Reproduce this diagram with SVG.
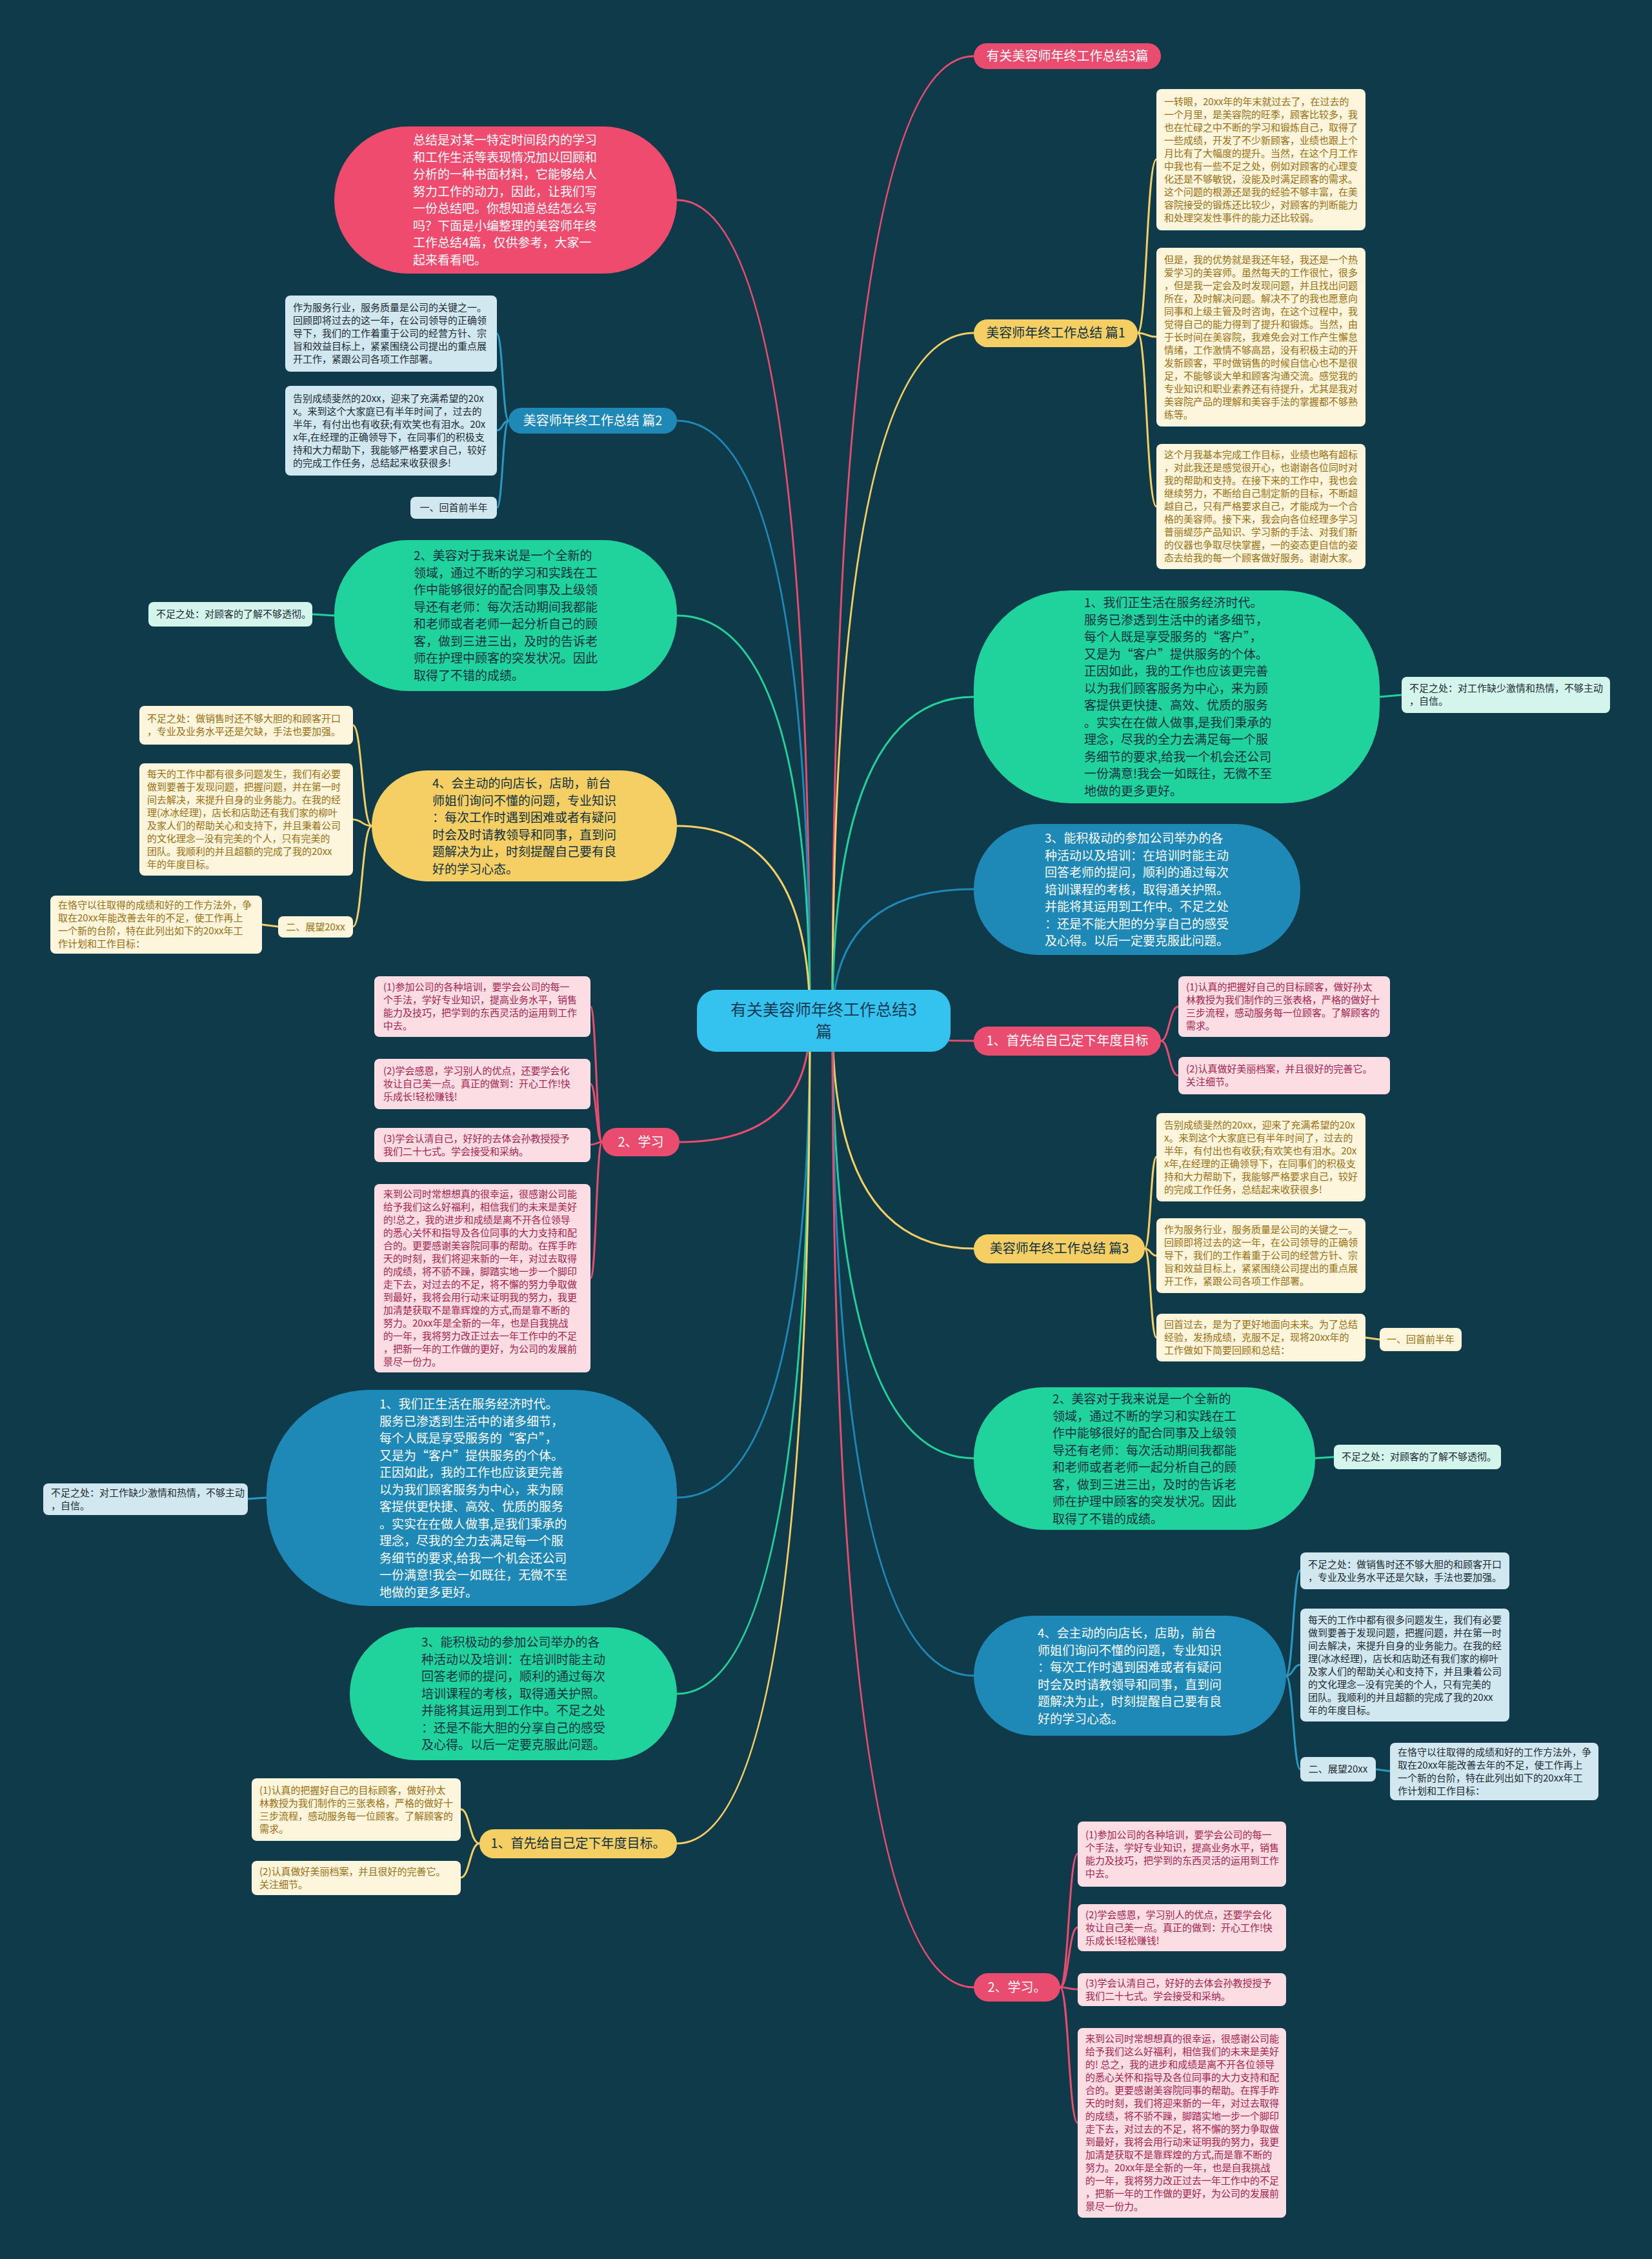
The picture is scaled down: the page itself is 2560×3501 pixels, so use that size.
<svg xmlns="http://www.w3.org/2000/svg" width="2560" height="3501" viewBox="0 0 2560 3501">
<style>
text{font-family:"Noto Sans CJK SC","Noto Sans",sans-serif;}
.cb{fill:#fdf5dc;}
.pb{fill:#fbdde3;}
.lb{fill:#d2e8f0;}
.mb{fill:#d3f5ec;}
.ct{fill:#9b7012;font-size:15px;}
.pt{fill:#a8234f;font-size:15px;}
.lt{fill:#1c2b33;font-size:15px;}
.bt{font-size:19px;}
.tg{font-size:20px;text-anchor:middle;}
.w{fill:#ffffff;}
.d{fill:#0e2f40;}
.c{fill:none;stroke-width:3;stroke-linecap:round;}
.r{stroke:#ea4c6f;}
.y{stroke:#f5cf63;}
.g{stroke:#20d39c;}
.b{stroke:#1e88b6;}
.lbs{stroke:#2a98c4;}
</style>
<rect x="0" y="0" width="2560" height="3501" fill="#0e3a4a"/>

<g id="connectors">
  <!-- root to right -->
  <path class="c r" stroke-width="4" d="M1290 1582 Q1290 87 1509 87"/>
  <path class="c y" stroke-width="4" d="M1290 1582 Q1290 516 1509 516"/>
  <path class="c g" stroke-width="4" d="M1290 1582 Q1290 1080 1509 1080"/>
  <path class="c b" stroke-width="4" d="M1290 1582 Q1290 1378 1509 1378"/>
  <path class="c r" stroke-width="4" d="M1290 1582 Q1290 1613 1509 1613"/>
  <path class="c y" stroke-width="4" d="M1290 1582 Q1290 1935 1509 1935"/>
  <path class="c g" stroke-width="4" d="M1290 1582 Q1290 2260 1509 2260"/>
  <path class="c b" stroke-width="4" d="M1290 1582 Q1290 2597 1509 2597"/>
  <path class="c r" stroke-width="4" d="M1290 1582 Q1290 3080 1509 3080"/>
  <!-- root to left -->
  <path class="c r" stroke-width="4" d="M1255 1582 Q1255 310 1049 310"/>
  <path class="c b" stroke-width="4" d="M1255 1582 Q1255 652 1049 652"/>
  <path class="c g" stroke-width="4" d="M1255 1582 Q1255 954 1049 954"/>
  <path class="c y" stroke-width="4" d="M1255 1582 Q1255 1280 1049 1280"/>
  <path class="c r" stroke-width="4" d="M1255 1582 Q1255 1770 1053 1770"/>
  <path class="c b" stroke-width="4" d="M1255 1582 Q1255 2321 1049 2321"/>
  <path class="c g" stroke-width="4" d="M1255 1582 Q1255 2625 1049 2625"/>
  <path class="c y" stroke-width="4" d="M1255 1582 Q1255 2857 1049 2857"/>
  <!-- right 篇1 -->
  <path class="c y" d="M1763 516 C1777 516 1777 247 1792 247"/>
  <path class="c y" d="M1763 516 C1777 516 1777 522 1792 522"/>
  <path class="c y" d="M1763 516 C1777 516 1777 785 1792 785"/>
  <!-- left 篇2 -->
  <path class="c lbs" d="M788 652 C779 652 779 517 770 517"/>
  <path class="c lbs" d="M788 652 C779 652 779 667 770 667"/>
  <path class="c lbs" d="M788 652 C779 652 779 787 770 787"/>
  <!-- green right 1 -->
  <path class="c g" d="M2138 1080 L2172 1077"/>
  <!-- green left 2 -->
  <path class="c g" d="M518 954 L484 952"/>
  <!-- yellow left 4 -->
  <path class="c y" d="M576 1280 C561 1280 561 1124 547 1124"/>
  <path class="c y" d="M576 1280 C561 1280 561 1270 547 1270"/>
  <path class="c y" d="M576 1280 C561 1280 561 1436 547 1436"/>
  <path class="c y" d="M431 1436 L406 1433"/>
  <!-- pink left 学习 -->
  <path class="c r" d="M933 1770 C924 1770 924 1560 915 1560"/>
  <path class="c r" d="M933 1770 C924 1770 924 1680 915 1680"/>
  <path class="c r" d="M933 1770 C924 1770 924 1774 915 1774"/>
  <path class="c r" d="M933 1770 C924 1770 924 1981 915 1981"/>
  <!-- pink right 首先 -->
  <path class="c r" d="M1799 1613 C1812 1613 1812 1560 1826 1560"/>
  <path class="c r" d="M1799 1613 C1812 1613 1812 1667 1826 1667"/>
  <!-- yellow right 篇3 -->
  <path class="c y" d="M1774 1935 C1783 1935 1783 1793 1792 1793"/>
  <path class="c y" d="M1774 1935 C1783 1935 1783 1946 1792 1946"/>
  <path class="c y" d="M1774 1935 C1783 1935 1783 2073 1792 2073"/>
  <path class="c y" d="M2116 2073 L2138 2076"/>
  <!-- green right 2 -->
  <path class="c g" d="M2038 2260 L2067 2258"/>
  <!-- blue right 4 -->
  <path class="c lbs" d="M1993 2597 C2004 2597 2004 2434 2015 2434"/>
  <path class="c lbs" d="M1993 2597 C2004 2597 2004 2580 2015 2580"/>
  <path class="c lbs" d="M1993 2597 C2004 2597 2004 2742 2015 2742"/>
  <path class="c lbs" d="M2132 2742 L2154 2745"/>
  <!-- pink right 学习 -->
  <path class="c r" d="M1643 3080 C1656 3080 1656 2873 1670 2873"/>
  <path class="c r" d="M1643 3080 C1656 3080 1656 2987 1670 2987"/>
  <path class="c r" d="M1643 3080 C1656 3080 1656 3083 1670 3083"/>
  <path class="c r" d="M1643 3080 C1656 3080 1656 3290 1670 3290"/>
  <!-- blue left 1 -->
  <path class="c lbs" d="M413 2321 L384 2323"/>
  <!-- yellow left 首先 -->
  <path class="c y" d="M743 2857 C728 2857 728 2804 714 2804"/>
  <path class="c y" d="M743 2857 C728 2857 728 2910 714 2910"/>
</g>

<g id="root">
  <rect x="1080" y="1534" width="393" height="96" rx="30" fill="#34c3ef"/>
  <text x="1276.5" y="1574" font-size="25" text-anchor="middle" fill="#173a55"><tspan x="1276.5">有关美容师年终工作总结3</tspan><tspan x="1276.5" dy="34">篇</tspan></text>
</g>

<!-- ============ RIGHT SIDE ============ -->
<g id="tag-top">
  <rect x="1509" y="67" width="290" height="40" rx="20" fill="#ea4c6f"/>
  <text class="tg w" x="1654" y="94">有关美容师年终工作总结3篇</text>
</g>

<g id="r-p1">
  <rect x="1509" y="495" width="254" height="43" rx="21" fill="#f5cf63"/>
  <text class="tg d" x="1636" y="523">美容师年终工作总结 篇1</text>
</g>
<g id="r-p1-b1">
  <rect class="cb" x="1792" y="138" width="324" height="219" rx="8"/>
  <text class="ct" x="1804" y="162.5"><tspan x="1804">一转眼，20xx年的年末就过去了，在过去的</tspan><tspan x="1804" dy="20">一个月里，是美容院的旺季，顾客比较多，我</tspan><tspan x="1804" dy="20">也在忙碌之中不断的学习和锻炼自己，取得了</tspan><tspan x="1804" dy="20">一些成绩，开发了不少新顾客，业绩也跟上个</tspan><tspan x="1804" dy="20">月比有了大幅度的提升。当然，在这个月工作</tspan><tspan x="1804" dy="20">中我也有一些不足之处，例如对顾客的心理变</tspan><tspan x="1804" dy="20">化还是不够敏锐，没能及时满足顾客的需求。</tspan><tspan x="1804" dy="20">这个问题的根源还是我的经验不够丰富，在美</tspan><tspan x="1804" dy="20">容院接受的锻炼还比较少，对顾客的判断能力</tspan><tspan x="1804" dy="20">和处理突发性事件的能力还比较弱。</tspan></text>
</g>
<g id="r-p1-b2">
  <rect class="cb" x="1792" y="384" width="324" height="277" rx="8"/>
  <text class="ct" x="1804" y="407.5"><tspan x="1804">但是，我的优势就是我还年轻，我还是一个热</tspan><tspan x="1804" dy="20">爱学习的美容师。虽然每天的工作很忙，很多</tspan><tspan x="1804" dy="20">，但是我一定会及时发现问题，并且找出问题</tspan><tspan x="1804" dy="20">所在，及时解决问题。解决不了的我也愿意向</tspan><tspan x="1804" dy="20">同事和上级主管及时咨询，在这个过程中，我</tspan><tspan x="1804" dy="20">觉得自己的能力得到了提升和锻炼。当然，由</tspan><tspan x="1804" dy="20">于长时间在美容院，我难免会对工作产生懈怠</tspan><tspan x="1804" dy="20">情绪，工作激情不够高昂，没有积极主动的开</tspan><tspan x="1804" dy="20">发新顾客，平时做销售的时候自信心也不是很</tspan><tspan x="1804" dy="20">足，不能够谈大单和顾客沟通交流。感觉我的</tspan><tspan x="1804" dy="20">专业知识和职业素养还有待提升，尤其是我对</tspan><tspan x="1804" dy="20">美容院产品的理解和美容手法的掌握都不够熟</tspan><tspan x="1804" dy="20">练等。</tspan></text>
</g>
<g id="r-p1-b3">
  <rect class="cb" x="1792" y="688" width="324" height="194" rx="8"/>
  <text class="ct" x="1804" y="710"><tspan x="1804">这个月我基本完成工作目标，业绩也略有超标</tspan><tspan x="1804" dy="20">，对此我还是感觉很开心，也谢谢各位同时对</tspan><tspan x="1804" dy="20">我的帮助和支持。在接下来的工作中，我也会</tspan><tspan x="1804" dy="20">继续努力，不断给自己制定新的目标，不断超</tspan><tspan x="1804" dy="20">越自己，只有严格要求自己，才能成为一个合</tspan><tspan x="1804" dy="20">格的美容师。接下来，我会向各位经理多学习</tspan><tspan x="1804" dy="20">普丽缇莎产品知识、学习新的手法、对我们新</tspan><tspan x="1804" dy="20">的仪器也争取尽快掌握，一的姿态更自信的姿</tspan><tspan x="1804" dy="20">态去给我的每一个顾客做好服务。谢谢大家。</tspan></text>
</g>

<g id="r-green1">
  <rect x="1509" y="915" width="629" height="330" rx="150" fill="#20d39c"/>
  <text class="bt d" x="1680" y="941"><tspan x="1680">1、我们正生活在服务经济时代。</tspan><tspan x="1680" dy="26.5">服务已渗透到生活中的诸多细节，</tspan><tspan x="1680" dy="26.5">每个人既是享受服务的“客户”，</tspan><tspan x="1680" dy="26.5">又是为“客户”提供服务的个体。</tspan><tspan x="1680" dy="26.5">正因如此，我的工作也应该更完善</tspan><tspan x="1680" dy="26.5">以为我们顾客服务为中心，来为顾</tspan><tspan x="1680" dy="26.5">客提供更快捷、高效、优质的服务</tspan><tspan x="1680" dy="26.5">。实实在在做人做事,是我们秉承的</tspan><tspan x="1680" dy="26.5">理念，尽我的全力去满足每一个服</tspan><tspan x="1680" dy="26.5">务细节的要求,给我一个机会还公司</tspan><tspan x="1680" dy="26.5">一份满意!我会一如既往，无微不至</tspan><tspan x="1680" dy="26.5">地做的更多更好。</tspan></text>
</g>
<g id="r-green1-m">
  <rect class="mb" x="2172" y="1049" width="323" height="56" rx="8"/>
  <text class="lt" x="2184" y="1072"><tspan x="2184">不足之处：对工作缺少激情和热情，不够主动</tspan><tspan x="2184" dy="20">，自信。</tspan></text>
</g>

<g id="r-blue3">
  <rect x="1509" y="1277" width="506" height="203" rx="100" fill="#1e88b6"/>
  <text class="bt w" x="1619" y="1306"><tspan x="1619">3、能积极动的参加公司举办的各</tspan><tspan x="1619" dy="26.5">种活动以及培训：在培训时能主动</tspan><tspan x="1619" dy="26.5">回答老师的提问，顺利的通过每次</tspan><tspan x="1619" dy="26.5">培训课程的考核，取得通关护照。</tspan><tspan x="1619" dy="26.5">并能将其运用到工作中。不足之处</tspan><tspan x="1619" dy="26.5">：还是不能大胆的分享自己的感受</tspan><tspan x="1619" dy="26.5">及心得。以后一定要克服此问题。</tspan></text>
</g>

<g id="r-goal">
  <rect x="1509" y="1591" width="290" height="45" rx="22" fill="#ea4c6f"/>
  <text class="tg w" x="1654" y="1620">1、首先给自己定下年度目标</text>
</g>
<g id="r-goal-b1">
  <rect class="pb" x="1826" y="1513" width="328" height="94" rx="8"/>
  <text class="pt" x="1838" y="1535"><tspan x="1838">(1)认真的把握好自己的目标顾客，做好孙太</tspan><tspan x="1838" dy="20">林教授为我们制作的三张表格，严格的做好十</tspan><tspan x="1838" dy="20">三步流程，感动服务每一位顾客。了解顾客的</tspan><tspan x="1838" dy="20">需求。</tspan></text>
</g>
<g id="r-goal-b2">
  <rect class="pb" x="1826" y="1638" width="328" height="58" rx="8"/>
  <text class="pt" x="1838" y="1662"><tspan x="1838">(2)认真做好美丽档案，并且很好的完善它。</tspan><tspan x="1838" dy="20">关注细节。</tspan></text>
</g>

<g id="r-p3">
  <rect x="1509" y="1913" width="265" height="45" rx="22" fill="#f5cf63"/>
  <text class="tg d" x="1641.5" y="1942">美容师年终工作总结 篇3</text>
</g>
<g id="r-p3-b1">
  <rect class="cb" x="1792" y="1725" width="324" height="137" rx="8"/>
  <text class="ct" x="1804" y="1748.5"><tspan x="1804">告别成绩斐然的20xx，迎来了充满希望的20x</tspan><tspan x="1804" dy="20">x。来到这个大家庭已有半年时间了，过去的</tspan><tspan x="1804" dy="20">半年，有付出也有收获;有欢笑也有泪水。20x</tspan><tspan x="1804" dy="20">x年,在经理的正确领导下，在同事们的积极支</tspan><tspan x="1804" dy="20">持和大力帮助下，我能够严格要求自己，较好</tspan><tspan x="1804" dy="20">的完成工作任务，总结起来收获很多!</tspan></text>
</g>
<g id="r-p3-b2">
  <rect class="cb" x="1792" y="1888" width="324" height="116" rx="8"/>
  <text class="ct" x="1804" y="1911"><tspan x="1804">作为服务行业，服务质量是公司的关键之一。</tspan><tspan x="1804" dy="20">回顾即将过去的这一年，在公司领导的正确领</tspan><tspan x="1804" dy="20">导下，我们的工作着重于公司的经营方针、宗</tspan><tspan x="1804" dy="20">旨和效益目标上，紧紧围绕公司提出的重点展</tspan><tspan x="1804" dy="20">开工作，紧跟公司各项工作部署。</tspan></text>
</g>
<g id="r-p3-b3">
  <rect class="cb" x="1792" y="2036" width="324" height="74" rx="8"/>
  <text class="ct" x="1804" y="2058"><tspan x="1804">回首过去，是为了更好地面向未来。为了总结</tspan><tspan x="1804" dy="20">经验，发扬成绩，克服不足，现将20xx年的</tspan><tspan x="1804" dy="20">工作做如下简要回顾和总结：</tspan></text>
</g>
<g id="r-p3-b4">
  <rect class="cb" x="2138" y="2058" width="127" height="36" rx="8"/>
  <text class="ct" x="2201.5" y="2081" text-anchor="middle">一、回首前半年</text>
</g>

<g id="r-green2">
  <rect x="1509" y="2150" width="529" height="221" rx="108" fill="#20d39c"/>
  <text class="bt d" x="1631" y="2175"><tspan x="1631">2、美容对于我来说是一个全新的</tspan><tspan x="1631" dy="26.5">领域，通过不断的学习和实践在工</tspan><tspan x="1631" dy="26.5">作中能够很好的配合同事及上级领</tspan><tspan x="1631" dy="26.5">导还有老师：每次活动期间我都能</tspan><tspan x="1631" dy="26.5">和老师或者老师一起分析自己的顾</tspan><tspan x="1631" dy="26.5">客，做到三进三出，及时的告诉老</tspan><tspan x="1631" dy="26.5">师在护理中顾客的突发状况。因此</tspan><tspan x="1631" dy="26.5">取得了不错的成绩。</tspan></text>
</g>
<g id="r-green2-m">
  <rect class="mb" x="2067" y="2239" width="259" height="38" rx="8"/>
  <text class="lt" x="2079" y="2263">不足之处：对顾客的了解不够透彻。</text>
</g>

<g id="r-blue4">
  <rect x="1509" y="2504" width="484" height="186" rx="93" fill="#1e88b6"/>
  <text class="bt w" x="1608" y="2538"><tspan x="1608">4、会主动的向店长，店助，前台</tspan><tspan x="1608" dy="26.5">师姐们询问不懂的问题，专业知识</tspan><tspan x="1608" dy="26.5">：每次工作时遇到困难或者有疑问</tspan><tspan x="1608" dy="26.5">时会及时请教领导和同事，直到问</tspan><tspan x="1608" dy="26.5">题解决为止，时刻提醒自己要有良</tspan><tspan x="1608" dy="26.5">好的学习心态。</tspan></text>
</g>
<g id="r-blue4-b1">
  <rect class="lb" x="2015" y="2406" width="324" height="57" rx="8"/>
  <text class="lt" x="2027" y="2429.5"><tspan x="2027">不足之处：做销售时还不够大胆的和顾客开口</tspan><tspan x="2027" dy="20">，专业及业务水平还是欠缺，手法也要加强。</tspan></text>
</g>
<g id="r-blue4-b2">
  <rect class="lb" x="2015" y="2493" width="324" height="175" rx="8"/>
  <text class="lt" x="2027" y="2515.5"><tspan x="2027">每天的工作中都有很多问题发生，我们有必要</tspan><tspan x="2027" dy="20">做到要善于发现问题，把握问题，并在第一时</tspan><tspan x="2027" dy="20">间去解决，来提升自身的业务能力。在我的经</tspan><tspan x="2027" dy="20">理(冰冰经理)，店长和店助还有我们家的柳叶</tspan><tspan x="2027" dy="20">及家人们的帮助关心和支持下，并且秉着公司</tspan><tspan x="2027" dy="20">的文化理念—没有完美的个人，只有完美的</tspan><tspan x="2027" dy="20">团队。我顺利的并且超额的完成了我的20xx</tspan><tspan x="2027" dy="20">年的年度目标。</tspan></text>
</g>
<g id="r-blue4-b3">
  <rect class="lb" x="2015" y="2723" width="117" height="38" rx="8"/>
  <text class="lt" x="2073.5" y="2747" text-anchor="middle">二、展望20xx</text>
</g>
<g id="r-blue4-b4">
  <rect class="lb" x="2154" y="2701" width="323" height="89" rx="8"/>
  <text class="lt" x="2166" y="2720.5"><tspan x="2166">在恪守以往取得的成绩和好的工作方法外，争</tspan><tspan x="2166" dy="20">取在20xx年能改善去年的不足，使工作再上</tspan><tspan x="2166" dy="20">一个新的台阶，特在此列出如下的20xx年工</tspan><tspan x="2166" dy="20">作计划和工作目标：</tspan></text>
</g>

<g id="r-study">
  <rect x="1509" y="3058" width="134" height="44" rx="22" fill="#ea4c6f"/>
  <text class="tg w" x="1576" y="3087">2、学习。</text>
</g>
<g id="r-study-b1">
  <rect class="pb" x="1670" y="2823" width="323" height="101" rx="8"/>
  <text class="pt" x="1682" y="2848.5"><tspan x="1682">(1)参加公司的各种培训，要学会公司的每一</tspan><tspan x="1682" dy="20">个手法，学好专业知识，提高业务水平，销售</tspan><tspan x="1682" dy="20">能力及技巧，把学到的东西灵活的运用到工作</tspan><tspan x="1682" dy="20">中去。</tspan></text>
</g>
<g id="r-study-b2">
  <rect class="pb" x="1670" y="2951" width="323" height="73" rx="8"/>
  <text class="pt" x="1682" y="2972.5"><tspan x="1682">(2)学会感恩，学习别人的优点，还要学会化</tspan><tspan x="1682" dy="20">妆让自己美一点。真正的做到：开心工作!快</tspan><tspan x="1682" dy="20">乐成长!轻松赚钱!</tspan></text>
</g>
<g id="r-study-b3">
  <rect class="pb" x="1670" y="3058" width="323" height="51" rx="8"/>
  <text class="pt" x="1682" y="3078.5"><tspan x="1682">(3)学会认清自己，好好的去体会孙教授授予</tspan><tspan x="1682" dy="20">我们二十七式。学会接受和采纳。</tspan></text>
</g>
<g id="r-study-b4">
  <rect class="pb" x="1670" y="3143" width="323" height="294" rx="8"/>
  <text class="pt" x="1682" y="3165"><tspan x="1682">来到公司时常想想真的很幸运，很感谢公司能</tspan><tspan x="1682" dy="20">给予我们这么好福利，相信我们的未来是美好</tspan><tspan x="1682" dy="20">的! 总之，我的进步和成绩是离不开各位领导</tspan><tspan x="1682" dy="20">的悉心关怀和指导及各位同事的大力支持和配</tspan><tspan x="1682" dy="20">合的。更要感谢美容院同事的帮助。在挥手昨</tspan><tspan x="1682" dy="20">天的时刻，我们将迎来新的一年，对过去取得</tspan><tspan x="1682" dy="20">的成绩，将不骄不躁，脚踏实地一步一个脚印</tspan><tspan x="1682" dy="20">走下去，对过去的不足，将不懈的努力争取做</tspan><tspan x="1682" dy="20">到最好，我将会用行动来证明我的努力，我更</tspan><tspan x="1682" dy="20">加清楚获取不是靠辉煌的方式,而是靠不断的</tspan><tspan x="1682" dy="20">努力。20xx年是全新的一年，也是自我挑战</tspan><tspan x="1682" dy="20">的一年，我将努力改正过去一年工作中的不足</tspan><tspan x="1682" dy="20">，把新一年的工作做的更好，为公司的发展前</tspan><tspan x="1682" dy="20">景尽一份力。</tspan></text>
</g>

<!-- ============ LEFT SIDE ============ -->
<g id="l-intro">
  <rect x="518" y="196" width="531" height="228" rx="114" fill="#ee4b6e"/>
  <text class="bt w" x="640" y="224"><tspan x="640">总结是对某一特定时间段内的学习</tspan><tspan x="640" dy="26.5">和工作生活等表现情况加以回顾和</tspan><tspan x="640" dy="26.5">分析的一种书面材料，它能够给人</tspan><tspan x="640" dy="26.5">努力工作的动力，因此，让我们写</tspan><tspan x="640" dy="26.5">一份总结吧。你想知道总结怎么写</tspan><tspan x="640" dy="26.5">吗？下面是小编整理的美容师年终</tspan><tspan x="640" dy="26.5">工作总结4篇，仅供参考，大家一</tspan><tspan x="640" dy="26.5">起来看看吧。</tspan></text>
</g>

<g id="l-p2">
  <rect x="788" y="632" width="261" height="40" rx="20" fill="#1e88b6"/>
  <text class="tg w" x="918.5" y="659">美容师年终工作总结 篇2</text>
</g>
<g id="l-p2-b1">
  <rect class="lb" x="442" y="458" width="328" height="118" rx="8"/>
  <text class="lt" x="454" y="482"><tspan x="454">作为服务行业，服务质量是公司的关键之一。</tspan><tspan x="454" dy="20">回顾即将过去的这一年，在公司领导的正确领</tspan><tspan x="454" dy="20">导下，我们的工作着重于公司的经营方针、宗</tspan><tspan x="454" dy="20">旨和效益目标上，紧紧围绕公司提出的重点展</tspan><tspan x="454" dy="20">开工作，紧跟公司各项工作部署。</tspan></text>
</g>
<g id="l-p2-b2">
  <rect class="lb" x="442" y="598" width="328" height="139" rx="8"/>
  <text class="lt" x="454" y="622.5"><tspan x="454">告别成绩斐然的20xx，迎来了充满希望的20x</tspan><tspan x="454" dy="20">x。来到这个大家庭已有半年时间了，过去的</tspan><tspan x="454" dy="20">半年，有付出也有收获;有欢笑也有泪水。20x</tspan><tspan x="454" dy="20">x年,在经理的正确领导下，在同事们的积极支</tspan><tspan x="454" dy="20">持和大力帮助下，我能够严格要求自己，较好</tspan><tspan x="454" dy="20">的完成工作任务，总结起来收获很多!</tspan></text>
</g>
<g id="l-p2-b3">
  <rect class="lb" x="636" y="770" width="134" height="34" rx="8"/>
  <text class="lt" x="703" y="792" text-anchor="middle">一、回首前半年</text>
</g>

<g id="l-green2">
  <rect x="518" y="837" width="531" height="234" rx="114" fill="#20d39c"/>
  <text class="bt d" x="641" y="868"><tspan x="641">2、美容对于我来说是一个全新的</tspan><tspan x="641" dy="26.5">领域，通过不断的学习和实践在工</tspan><tspan x="641" dy="26.5">作中能够很好的配合同事及上级领</tspan><tspan x="641" dy="26.5">导还有老师：每次活动期间我都能</tspan><tspan x="641" dy="26.5">和老师或者老师一起分析自己的顾</tspan><tspan x="641" dy="26.5">客，做到三进三出，及时的告诉老</tspan><tspan x="641" dy="26.5">师在护理中顾客的突发状况。因此</tspan><tspan x="641" dy="26.5">取得了不错的成绩。</tspan></text>
</g>
<g id="l-green2-m">
  <rect class="mb" x="230" y="933" width="254" height="38" rx="8"/>
  <text class="lt" x="242" y="957">不足之处：对顾客的了解不够透彻。</text>
</g>

<g id="l-yellow4">
  <rect x="576" y="1194" width="473" height="172" rx="86" fill="#f5cf63"/>
  <text class="bt d" x="670" y="1221"><tspan x="670">4、会主动的向店长，店助，前台</tspan><tspan x="670" dy="26.5">师姐们询问不懂的问题，专业知识</tspan><tspan x="670" dy="26.5">：每次工作时遇到困难或者有疑问</tspan><tspan x="670" dy="26.5">时会及时请教领导和同事，直到问</tspan><tspan x="670" dy="26.5">题解决为止，时刻提醒自己要有良</tspan><tspan x="670" dy="26.5">好的学习心态。</tspan></text>
</g>
<g id="l-yellow4-b1">
  <rect class="cb" x="216" y="1094" width="331" height="60" rx="8"/>
  <text class="ct" x="228" y="1119"><tspan x="228">不足之处：做销售时还不够大胆的和顾客开口</tspan><tspan x="228" dy="20">，专业及业务水平还是欠缺，手法也要加强。</tspan></text>
</g>
<g id="l-yellow4-b2">
  <rect class="cb" x="216" y="1183" width="331" height="174" rx="8"/>
  <text class="ct" x="228" y="1205"><tspan x="228">每天的工作中都有很多问题发生，我们有必要</tspan><tspan x="228" dy="20">做到要善于发现问题，把握问题，并在第一时</tspan><tspan x="228" dy="20">间去解决，来提升自身的业务能力。在我的经</tspan><tspan x="228" dy="20">理(冰冰经理)，店长和店助还有我们家的柳叶</tspan><tspan x="228" dy="20">及家人们的帮助关心和支持下，并且秉着公司</tspan><tspan x="228" dy="20">的文化理念—没有完美的个人，只有完美的</tspan><tspan x="228" dy="20">团队。我顺利的并且超额的完成了我的20xx</tspan><tspan x="228" dy="20">年的年度目标。</tspan></text>
</g>
<g id="l-yellow4-b3">
  <rect class="cb" x="431" y="1420" width="116" height="33" rx="8"/>
  <text class="ct" x="489" y="1442" text-anchor="middle">二、展望20xx</text>
</g>
<g id="l-yellow4-b4">
  <rect class="cb" x="78" y="1388" width="328" height="90" rx="8"/>
  <text class="ct" x="90" y="1408"><tspan x="90">在恪守以往取得的成绩和好的工作方法外，争</tspan><tspan x="90" dy="20">取在20xx年能改善去年的不足，使工作再上</tspan><tspan x="90" dy="20">一个新的台阶，特在此列出如下的20xx年工</tspan><tspan x="90" dy="20">作计划和工作目标：</tspan></text>
</g>

<g id="l-study">
  <rect x="933" y="1748" width="120" height="44" rx="22" fill="#ea4c6f"/>
  <text class="tg w" x="993" y="1777">2、学习</text>
</g>
<g id="l-study-b1">
  <rect class="pb" x="580" y="1513" width="335" height="94" rx="8"/>
  <text class="pt" x="594" y="1535"><tspan x="594">(1)参加公司的各种培训，要学会公司的每一</tspan><tspan x="594" dy="20">个手法，学好专业知识，提高业务水平，销售</tspan><tspan x="594" dy="20">能力及技巧，把学到的东西灵活的运用到工作</tspan><tspan x="594" dy="20">中去。</tspan></text>
</g>
<g id="l-study-b2">
  <rect class="pb" x="580" y="1641" width="335" height="78" rx="8"/>
  <text class="pt" x="594" y="1665"><tspan x="594">(2)学会感恩，学习别人的优点，还要学会化</tspan><tspan x="594" dy="20">妆让自己美一点。真正的做到：开心工作!快</tspan><tspan x="594" dy="20">乐成长!轻松赚钱!</tspan></text>
</g>
<g id="l-study-b3">
  <rect class="pb" x="580" y="1748" width="335" height="53" rx="8"/>
  <text class="pt" x="594" y="1769.5"><tspan x="594">(3)学会认清自己，好好的去体会孙教授授予</tspan><tspan x="594" dy="20">我们二十七式。学会接受和采纳。</tspan></text>
</g>
<g id="l-study-b4">
  <rect class="pb" x="580" y="1835" width="335" height="292" rx="8"/>
  <text class="pt" x="594" y="1856"><tspan x="594">来到公司时常想想真的很幸运，很感谢公司能</tspan><tspan x="594" dy="20">给予我们这么好福利，相信我们的未来是美好</tspan><tspan x="594" dy="20">的!总之，我的进步和成绩是离不开各位领导</tspan><tspan x="594" dy="20">的悉心关怀和指导及各位同事的大力支持和配</tspan><tspan x="594" dy="20">合的。更要感谢美容院同事的帮助。在挥手昨</tspan><tspan x="594" dy="20">天的时刻，我们将迎来新的一年，对过去取得</tspan><tspan x="594" dy="20">的成绩，将不骄不躁，脚踏实地一步一个脚印</tspan><tspan x="594" dy="20">走下去，对过去的不足，将不懈的努力争取做</tspan><tspan x="594" dy="20">到最好，我将会用行动来证明我的努力，我更</tspan><tspan x="594" dy="20">加清楚获取不是靠辉煌的方式,而是靠不断的</tspan><tspan x="594" dy="20">努力。20xx年是全新的一年，也是自我挑战</tspan><tspan x="594" dy="20">的一年，我将努力改正过去一年工作中的不足</tspan><tspan x="594" dy="20">，把新一年的工作做的更好，为公司的发展前</tspan><tspan x="594" dy="20">景尽一份力。</tspan></text>
</g>

<g id="l-blue1">
  <rect x="413" y="2154" width="636" height="335" rx="160" fill="#1e88b6"/>
  <text class="bt w" x="588" y="2183"><tspan x="588">1、我们正生活在服务经济时代。</tspan><tspan x="588" dy="26.5">服务已渗透到生活中的诸多细节，</tspan><tspan x="588" dy="26.5">每个人既是享受服务的“客户”，</tspan><tspan x="588" dy="26.5">又是为“客户”提供服务的个体。</tspan><tspan x="588" dy="26.5">正因如此，我的工作也应该更完善</tspan><tspan x="588" dy="26.5">以为我们顾客服务为中心，来为顾</tspan><tspan x="588" dy="26.5">客提供更快捷、高效、优质的服务</tspan><tspan x="588" dy="26.5">。实实在在做人做事,是我们秉承的</tspan><tspan x="588" dy="26.5">理念，尽我的全力去满足每一个服</tspan><tspan x="588" dy="26.5">务细节的要求,给我一个机会还公司</tspan><tspan x="588" dy="26.5">一份满意!我会一如既往，无微不至</tspan><tspan x="588" dy="26.5">地做的更多更好。</tspan></text>
</g>
<g id="l-blue1-m">
  <rect class="lb" x="67" y="2299" width="317" height="49" rx="8"/>
  <text class="lt" x="79" y="2318.5"><tspan x="79">不足之处：对工作缺少激情和热情，不够主动</tspan><tspan x="79" dy="20">，自信。</tspan></text>
</g>

<g id="l-green3">
  <rect x="542" y="2522" width="507" height="206" rx="103" fill="#20d39c"/>
  <text class="bt d" x="653" y="2552"><tspan x="653">3、能积极动的参加公司举办的各</tspan><tspan x="653" dy="26.5">种活动以及培训：在培训时能主动</tspan><tspan x="653" dy="26.5">回答老师的提问，顺利的通过每次</tspan><tspan x="653" dy="26.5">培训课程的考核，取得通关护照。</tspan><tspan x="653" dy="26.5">并能将其运用到工作中。不足之处</tspan><tspan x="653" dy="26.5">：还是不能大胆的分享自己的感受</tspan><tspan x="653" dy="26.5">及心得。以后一定要克服此问题。</tspan></text>
</g>

<g id="l-goal">
  <rect x="743" y="2835" width="306" height="45" rx="22" fill="#f5cf63"/>
  <text class="tg d" x="896" y="2864">1、首先给自己定下年度目标。</text>
</g>
<g id="l-goal-b1">
  <rect class="cb" x="390" y="2756" width="324" height="97" rx="8"/>
  <text class="ct" x="402" y="2779.5"><tspan x="402">(1)认真的把握好自己的目标顾客，做好孙太</tspan><tspan x="402" dy="20">林教授为我们制作的三张表格，严格的做好十</tspan><tspan x="402" dy="20">三步流程，感动服务每一位顾客。了解顾客的</tspan><tspan x="402" dy="20">需求。</tspan></text>
</g>
<g id="l-goal-b2">
  <rect class="cb" x="390" y="2884" width="324" height="53" rx="8"/>
  <text class="ct" x="402" y="2905.5"><tspan x="402">(2)认真做好美丽档案，并且很好的完善它。</tspan><tspan x="402" dy="20">关注细节。</tspan></text>
</g>
</svg>
